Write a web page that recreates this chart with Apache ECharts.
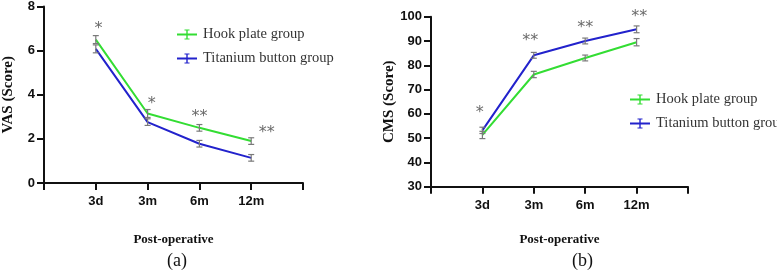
<!DOCTYPE html>
<html>
<head>
<meta charset="utf-8">
<script src="https://cdn.jsdelivr.net/npm/echarts@6/dist/echarts.min.js"></script>
<style>html,body{margin:0;padding:0;background:#fff}#c{width:777px;height:272px}</style>
</head>
<body>
<div id="c"></div>
<script>
var categories = ['3d', '3m', '6m', '12m'];
var vasHook = [6.5, 3.15, 2.5, 1.9];
var vasHookErr = [0.18, 0.18, 0.15, 0.15];
var vasTi = [6.08, 2.76, 1.78, 1.14];
var vasTiErr = [0.18, 0.15, 0.15, 0.15];
var vasStars = ['*', '*', '**', '**'];
var vasStarY = [6.98, 3.58, 2.98, 2.26];
var vasStarX = [1.05, 2.08, 3.0, 4.3];

var cmsHook = [51.3, 76.2, 83.0, 89.5];
var cmsHookErr = [1.5, 1.3, 1.2, 1.5];
var cmsTi = [53.2, 84.1, 90.0, 94.8];
var cmsTiErr = [1.3, 1.2, 1.2, 1.4];
var cmsStars = ['*', '**', '**', '**'];
var cmsStarY = [60.3, 90.1, 95.3, 99.8];
var cmsStarX = [0.95, 1.93, 3.0, 4.05];

var GREEN = '#33dd33', BLUE = '#2222cc', ERR = '#7a7a7a';
var serif = '"Liberation Serif","Times New Roman",serif';
var sans = '"Liberation Sans",Arial,sans-serif';

function pts(arr) { return arr.map(function (v, i) { return [i + 1, v]; }); }
function errPts(arr, err) { return arr.map(function (v, i) { return [i + 1, v, err[i]]; }); }
function starPts(xs, ys, txt) { return ys.map(function (y, i) { return { value: [xs[i], y], name: txt[i] }; }); }

function errRender(params, api) {
  var x = api.value(0), y = api.value(1), e = api.value(2);
  var top = api.coord([x, y + e]), bot = api.coord([x, y - e]);
  var w = 3;
  var st = { stroke: ERR, lineWidth: 1.2 };
  return { type: 'group', children: [
    { type: 'line', shape: { x1: top[0], y1: top[1], x2: bot[0], y2: bot[1] }, style: st },
    { type: 'line', shape: { x1: top[0] - w, y1: top[1], x2: top[0] + w, y2: top[1] }, style: st },
    { type: 'line', shape: { x1: bot[0] - w, y1: bot[1], x2: bot[0] + w, y2: bot[1] }, style: st }
  ]};
}

function xAxisDef(gi, gap) {
  return {
    gridIndex: gi, type: 'value', min: 0, max: 5, interval: 1,
    axisLine: { lineStyle: { color: '#111', width: 2 } },
    axisTick: { length: 7, lineStyle: { color: '#111', width: 2 } },
    splitLine: { show: false },
    axisLabel: { formatter: function (v) { return categories[v - 1] || ''; }, fontFamily: sans, fontWeight: 'bold', fontSize: 13, color: '#111', margin: 12 },
    name: 'Post-operative', nameLocation: 'middle', nameGap: gap,
    nameTextStyle: { fontFamily: serif, fontWeight: 'bold', fontSize: 13, color: '#111' }
  };
}
function yAxisDef(gi, min, max, interval, name, gap) {
  return {
    gridIndex: gi, type: 'value', min: min, max: max, interval: interval,
    axisLine: { show: true, lineStyle: { color: '#111', width: 2 } },
    axisTick: { show: true, length: 7, lineStyle: { color: '#111', width: 2 } },
    splitLine: { show: false },
    axisLabel: { fontFamily: sans, fontWeight: 'bold', fontSize: 13, color: '#111', margin: 9 },
    name: name, nameLocation: 'middle', nameGap: gap, nameRotate: 90,
    nameTextStyle: { fontFamily: serif, fontWeight: 'bold', fontSize: 15, color: '#111' }
  };
}
function lineSeries(name, data, color, gi) {
  return { type: 'line', name: name, xAxisIndex: gi, yAxisIndex: gi, data: data, symbol: 'none',
    lineStyle: { color: color, width: 2 }, itemStyle: { color: color }, z: 3, animation: false };
}
function errSeries(data, gi) {
  return { type: 'custom', xAxisIndex: gi, yAxisIndex: gi, data: data, renderItem: errRender, z: 4, animation: false, silent: true };
}
function starSeries(data, gi) {
  return { type: 'scatter', xAxisIndex: gi, yAxisIndex: gi, data: data, symbol: 'circle', symbolSize: 2, clip: false,
    itemStyle: { color: 'rgba(0,0,0,0)' },
    label: { show: true, position: 'inside', formatter: '{b}', fontFamily: '"DejaVu Sans",sans-serif', fontSize: 16, color: '#444' },
    labelLayout: { hideOverlap: false }, silent: true, animation: false, z: 5 };
}
var icon = 'path://M0,6h20v2h-20z M9.3,2h1.4v10h-1.4z M7.5,2h5v1h-5z M7.5,11h5v1h-5z';
function legendDef(left, top) {
  return { orient: 'vertical', left: left, top: top, itemWidth: 20, itemHeight: 12, itemGap: 9,
    icon: icon, data: ['Hook plate group', 'Titanium button group'],
    textStyle: { fontFamily: serif, fontSize: 14.5, color: '#333', padding: [0, 0, 0, 1] } };
}

var chart = echarts.init(document.getElementById('c'), null, { renderer: 'canvas' });
chart.setOption({
  animation: false,
  grid: [
    { left: 37, top: 5, width: 266, height: 178 },
    { left: 431, top: 16.7, width: 257, height: 170 }
  ],
  xAxis: [xAxisDef(0, 50), xAxisDef(1, 46)],
  yAxis: [yAxisDef(0, 0, 8, 2, 'VAS (Score)', 28), yAxisDef(1, 30, 100, 10, 'CMS (Score)', 30)],
  legend: [legendDef(172, 22), legendDef(625, 87)],
  series: [
    lineSeries('Hook plate group', pts(vasHook), GREEN, 0),
    lineSeries('Titanium button group', pts(vasTi), BLUE, 0),
    errSeries(errPts(vasHook, vasHookErr), 0),
    errSeries(errPts(vasTi, vasTiErr), 0),
    starSeries(starPts(vasStarX, vasStarY, vasStars), 0),
    lineSeries('Hook plate group', pts(cmsHook), GREEN, 1),
    lineSeries('Titanium button group', pts(cmsTi), BLUE, 1),
    errSeries(errPts(cmsHook, cmsHookErr), 1),
    errSeries(errPts(cmsTi, cmsTiErr), 1),
    starSeries(starPts(cmsStarX, cmsStarY, cmsStars), 1)
  ],
  graphic: [
    { type: 'text', left: 167, top: 252, style: { text: '(a)', font: '18px ' + serif, fill: '#111' } },
    { type: 'text', left: 572, top: 252, style: { text: '(b)', font: '18px ' + serif, fill: '#111' } }
  ]
});
</script>
</body>
</html>
